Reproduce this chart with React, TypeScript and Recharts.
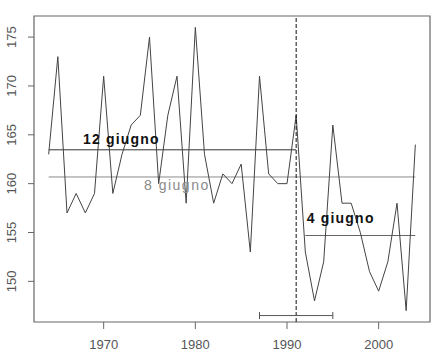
import React from "react";
import { LineChart, Line, XAxis, YAxis, ReferenceLine, ReferenceArea, ReferenceDot } from "recharts";

const years: number[] = [];
for (let y = 1964; y <= 2004; y++) years.push(y);

const values = [
  163, 173, 157, 159, 157, 159, 171, 159, 163, 166,
  167, 175, 160, 167, 171, 158, 176, 163, 158, 161,
  160, 162, 153, 171, 161, 160, 160, 167, 153, 148,
  152, 166, 158, 158, 155, 151, 149, 152, 158, 147,
  164,
];

const xTicks = [1970, 1980, 1990, 2000];
const yTicks = [150, 155, 160, 165, 170, 175];
const xDomain: [number, number] = [1962.4, 2005.6];
const yDomain: [number, number] = [145.84, 177.16];

const breakYear = 1991;
const intervalRange = [1987, 1995];
const intervalLevel = 146.5;

const data = years.map((year, i) => ({ year, value: values[i] }));

const mean = (arr: number[]) => arr.reduce((a, b) => a + b, 0) / arr.length;
const firstPart = data.filter((d) => d.year <= breakYear).map((d) => d.value);
const secondPart = data.filter((d) => d.year > breakYear).map((d) => d.value);
const meanAll = mean(values);
const mean1 = mean(firstPart);
const mean2 = mean(secondPart);

const FONT = "'Liberation Sans', Arial, sans-serif";

const YTick = (props: any) => {
  const { y, payload } = props;
  return (
    <text
      x={16.5}
      y={y}
      transform={`rotate(-90, 16.5, ${y})`}
      textAnchor="middle"
      fontSize={13}
      fontFamily={FONT}
      fill="#555"
    >
      {payload.value}
    </text>
  );
};

const makeLabel = (txt: string, color: string, weight: string | number, spacing: number) => (p: any) => (
  <text
    x={p.cx}
    y={p.cy}
    fontSize={14}
    fontFamily={FONT}
    fontWeight={weight}
    letterSpacing={spacing}
    fill={color}
  >
    {txt}
  </text>
);

export default function App() {
  return (
    <div style={{ position: "absolute", left: 0, top: 0, background: "#fff" }}>
      <LineChart
        width={437}
        height={355}
        data={data}
        margin={{ top: 16, right: 7, bottom: 0, left: 0 }}
      >
        <XAxis
          dataKey="year"
          type="number"
          domain={xDomain}
          ticks={xTicks}
          allowDataOverflow
          axisLine={false}
          tickSize={7}
          tickMargin={11}
          height={33}
          tickLine={{ stroke: "#666" }}
          tick={{ fill: "#555", fontSize: 13, fontFamily: FONT }}
        />
        <YAxis
          type="number"
          domain={yDomain}
          ticks={yTicks}
          allowDataOverflow
          axisLine={false}
          tickSize={6}
          width={34}
          tickLine={{ stroke: "#666" }}
          tick={<YTick />}
        />
        <ReferenceArea
          x1={xDomain[0]}
          x2={xDomain[1]}
          y1={yDomain[0]}
          y2={yDomain[1]}
          fill="none"
          stroke="#666"
          strokeWidth={1.2}
          ifOverflow="visible"
        />
        <ReferenceLine
          segment={[{ x: 1964, y: meanAll }, { x: 2004, y: meanAll }]}
          stroke="#8a8a8a"
          strokeWidth={1}
        />
        <ReferenceLine
          segment={[{ x: 1964, y: mean1 }, { x: breakYear, y: mean1 }]}
          stroke="#333"
          strokeWidth={1}
        />
        <ReferenceLine
          segment={[{ x: breakYear + 1, y: mean2 }, { x: 2004, y: mean2 }]}
          stroke="#666"
          strokeWidth={1}
        />
        <Line
          type="linear"
          dataKey="value"
          stroke="#444"
          strokeWidth={1}
          dot={false}
          isAnimationActive={false}
        />
        <ReferenceLine x={breakYear} stroke="#111" strokeDasharray="4 2" strokeWidth={1} />
        <ReferenceLine
          segment={[{ x: intervalRange[0], y: intervalLevel }, { x: intervalRange[1], y: intervalLevel }]}
          stroke="#555"
          strokeWidth={1}
        />
        <ReferenceLine
          segment={[{ x: intervalRange[0], y: intervalLevel - 0.36 }, { x: intervalRange[0], y: intervalLevel + 0.36 }]}
          stroke="#555"
          strokeWidth={1}
        />
        <ReferenceLine
          segment={[{ x: intervalRange[1], y: intervalLevel - 0.36 }, { x: intervalRange[1], y: intervalLevel + 0.36 }]}
          stroke="#555"
          strokeWidth={1}
        />
        <ReferenceDot x={1967.74} y={164.11} r={0} shape={makeLabel("12 giugno", "#111", "bold", 1.2)} />
        <ReferenceDot x={1974.4} y={159.38} r={0} shape={makeLabel("8 giugno", "#8a8a8a", "normal", 1.5)} />
        <ReferenceDot x={1992.15} y={155.95} r={0} shape={makeLabel("4 giugno", "#111", "bold", 1.2)} />
      </LineChart>
    </div>
  );
}
